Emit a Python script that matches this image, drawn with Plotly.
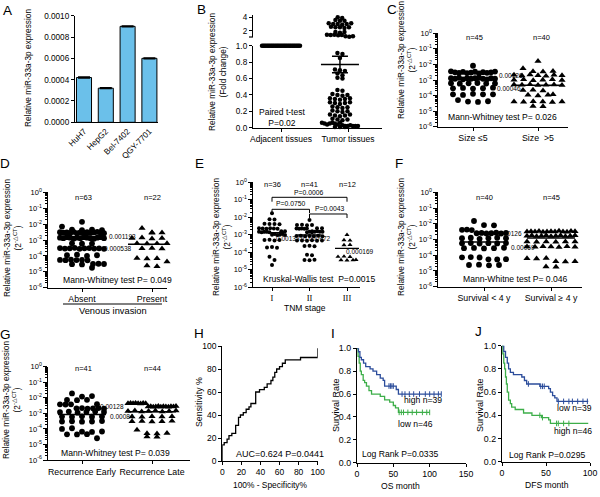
import numpy as np
import plotly.graph_objects as go

W, H = 600, 497
FONT = "Liberation Sans, Arial, Helvetica, sans-serif"
SERIF = "Liberation Serif, Times New Roman, serif"
BLUE = "#2B4C9B"
GREEN = "#3DAE49"

# ---------------- data ----------------
# A: cell lines
cell_lines = ["HuH7", "HepG2", "Bel-7402", "QGY-7701"]
cell_expr = [0.00042, 0.00032, 0.00090, 0.00060]
cell_err = [0.000004, 0.000003, 0.000004, 0.000003]

# B: paired tissues (fold change)
b_labels = ["Adjacent tissues", "Tumor tissues"]
adjacent_fc = [1.0, 1.0, 1.0, 1.0, 1.0, 1.0, 1.0, 1.0, 1.0, 1.0, 1.0, 1.0, 1.0, 1.0, 1.0,
               1.0, 1.0, 1.0, 1.0, 1.0, 1.0, 1.0, 1.0, 1.0, 1.0, 1.0, 1.0, 1.0, 1.0, 1.0]
tumor_fc = [4.0, 3.9, 3.6, 3.5, 3.5, 3.1, 3.0, 3.0, 2.9, 3.0, 3.1, 2.6, 2.5, 2.5, 2.4, 2.5,
            1.8, 1.7, 1.8, 1.4, 1.35, 1.4, 1.3, 1.35, 1.15, 1.1, 1.15,
            0.91, 0.90, 0.85, 0.71, 0.70, 0.69, 0.66, 0.64, 0.61, 0.60, 0.46, 0.45, 0.41, 0.40,
            0.39, 0.40, 0.36, 0.35, 0.34, 0.35, 0.36, 0.31, 0.30, 0.29, 0.30, 0.31, 0.26, 0.25,
            0.24, 0.25, 0.21, 0.20, 0.19, 0.20, 0.16, 0.15, 0.14, 0.15, 0.16, 0.11, 0.10, 0.09,
            0.10, 0.06, 0.05, 0.04, 0.05, 0.06, 0.05, 0.04, 0.06, 0.03, 0.02, 0.01, 0.02, 0.03,
            0.02, 0.01, 0.02, 0.01, 0.02]
tumor_mean = 0.77
tumor_sem = 0.10
b_test = "Paired t-test<br>P=0.02"

# C: tumour size
c_labels = ["Size \u22645", "Size \u00a0>5"]
c_le5 = [0.0082,
         0.0036, 0.0031, 0.0029, 0.0033, 0.0028, 0.0030, 0.0034, 0.0027, 0.0032, 0.0029, 0.0031, 0.0035,
         0.0013, 0.0012, 0.0014, 0.0011, 0.0013, 0.0012, 0.0013, 0.0014, 0.0012, 0.0011, 0.0013, 0.0012,
         0.00062, 0.00058, 0.00061, 0.00064, 0.00059, 0.00060,
         0.00029, 0.00031, 0.00028, 0.00030, 0.00032,
         0.00012, 0.00011, 0.00013, 0.00012, 0.00012,
         0.000051, 0.000041, 0.000039, 0.000043]
c_gt5 = [0.016, 0.0056,
         0.0036, 0.0034, 0.0037,
         0.0021, 0.0019, 0.0022, 0.0020, 0.0018, 0.0021, 0.0020,
         0.0010, 0.0011, 0.00095, 0.0010, 0.0011, 0.00098,
         0.00050, 0.00048, 0.00052, 0.00046, 0.00049, 0.00051, 0.00047,
         0.00022, 0.00023, 0.00021,
         0.00011, 0.00012, 0.00010, 0.00011,
         0.000041, 0.000039, 0.000042, 0.000040, 0.000038, 0.000041,
         0.000021, 0.000020]
c_medians = [0.00126, 0.00046]
c_n = ["n=45", "n=40"]
c_test = "Mann-Whitney test P= 0.026"

# D: venous invasion
d_labels = ["Absent", "Present"]
d_absent = [0.014, 0.0070,
            0.0045, 0.0042, 0.0044, 0.0041,
            0.0031, 0.0029, 0.0030, 0.0028, 0.0032, 0.0027, 0.0030, 0.0029, 0.0031, 0.0028, 0.0030, 0.0032, 0.0029, 0.0027,
            0.0014, 0.0013, 0.0015, 0.0014, 0.0012, 0.0014, 0.0013, 0.0015, 0.0014, 0.0013, 0.0012, 0.0014, 0.0015, 0.0013,
            0.00062, 0.00058, 0.00060,
            0.00031, 0.00029, 0.00030, 0.00032, 0.00028, 0.00030, 0.00031, 0.00029, 0.00030, 0.00028,
            0.00011, 0.00012, 0.00010, 0.00011,
            0.000056, 0.000054, 0.000058, 0.000055, 0.000057, 0.000053,
            0.000031, 0.000030, 0.000032, 0.000029, 0.000031,
            0.000018]
d_present = [0.0055,
             0.0030, 0.0028, 0.0029,
             0.0013, 0.0014, 0.0012, 0.0013, 0.0014,
             0.00062, 0.00058, 0.00060, 0.00061,
             0.00030, 0.00031, 0.00029,
             0.000072, 0.000068, 0.000070,
             0.000044,
             0.000024, 0.000022]
d_medians = [0.001193, 0.000538]
d_n = ["n=63", "n=22"]
d_test = "Mann-Whitney test P= 0.049"

# E: TNM stage
e_labels = ["I", "II", "III"]
e_stage1 = [0.017, 0.0078, 0.0075,
            0.0043, 0.0041, 0.0042, 0.0040,
            0.0024, 0.0023, 0.0022, 0.0024, 0.0023, 0.0022,
            0.0015, 0.0016, 0.0014, 0.0015, 0.0015, 0.0016, 0.0014,
            0.0010, 0.0011, 0.00098, 0.0010, 0.0011, 0.00097,
            0.00050, 0.00052, 0.00048, 0.00051,
            0.00019, 0.00020, 0.00018,
            0.000056, 0.000036, 0.000019]
e_stage2 = [0.0070,
            0.0036, 0.0037, 0.0035, 0.0036,
            0.0023, 0.0024, 0.0022, 0.0023, 0.0024, 0.0022, 0.0023,
            0.0015, 0.0016, 0.0014, 0.0015, 0.0016, 0.0014, 0.0015, 0.0015,
            0.00085, 0.00088, 0.00082, 0.00086, 0.00084, 0.00087, 0.00083,
            0.00047, 0.00048, 0.00046, 0.00049, 0.00045, 0.00047,
            0.00023, 0.00024, 0.00022,
            0.000072, 0.000068,
            0.000036, 0.000035, 0.000037]
e_stage3 = [0.0010, 0.00050, 0.00048, 0.00026, 0.00027,
            0.000056, 0.000058, 0.000055, 0.000036, 0.000035, 0.000037, 0.000036]
e_medians = [0.001337, 0.000972, 0.000169]
e_n = ["n=36", "n=41", "n=12"]
e_pairs = ["P=0.0006", "P=0.0750", "P=0.0043"]
e_test = "Kruskal-Wallis test  P=0.0015"

# F: survival
f_labels = ["Survival < 4 y", "Survival \u2265 4 y"]
f_lt4 = [0.015, 0.0083, 0.0080,
         0.0041, 0.0043, 0.0040,
         0.0025, 0.0026, 0.0024, 0.0025, 0.0027, 0.0024, 0.0026,
         0.0012, 0.0013, 0.0011, 0.0012, 0.0013, 0.0012,
         0.00057, 0.00060, 0.00055, 0.00058, 0.00056, 0.00059,
         0.00028, 0.00029, 0.00027, 0.00028, 0.00030,
         0.000074, 0.000076, 0.000072,
         0.000055, 0.000054, 0.000056,
         0.000024, 0.000025, 0.000023, 0.000024]
f_ge4 = [0.0032, 0.0033, 0.0031, 0.0034, 0.0030, 0.0032, 0.0033, 0.0031, 0.0035, 0.0032, 0.0030, 0.0034, 0.0033,
         0.0017, 0.0018, 0.0016, 0.0017, 0.0018, 0.0016, 0.0017, 0.0018, 0.0016, 0.0017, 0.0018,
         0.00072, 0.00070, 0.00074, 0.00071, 0.00073, 0.00072,
         0.00035, 0.00034, 0.00036, 0.00035, 0.00033, 0.00036, 0.00034,
         0.000063, 0.000061, 0.000065,
         0.000040, 0.000039, 0.000041,
         0.000019, 0.000018]
f_medians = [0.00069, 0.00126]
f_n = ["n=40", "n=45"]
f_test = "Mann-Whitne test P= 0.046"

# G: recurrence
g_labels = ["Recurrence Early", "Recurrence Late"]
g_early = [0.019, 0.012, 0.013,
           0.0072, 0.0070, 0.0074,
           0.0038, 0.0039, 0.0037, 0.0038,
           0.0021, 0.0022, 0.0020, 0.0021, 0.0022, 0.0020,
           0.0012, 0.0013, 0.0011, 0.0012, 0.0013, 0.0012,
           0.00062, 0.00060, 0.00064, 0.00061, 0.00063,
           0.00030, 0.00031, 0.00029, 0.00030, 0.00032,
           0.00010, 0.00011,
           0.000066, 0.000064, 0.000068,
           0.000045, 0.000044, 0.000046,
           0.000025]
g_late = [0.0044, 0.0045, 0.0043, 0.0046, 0.0044, 0.0042, 0.0045, 0.0043,
          0.0027, 0.0028, 0.0026, 0.0027, 0.0029, 0.0026, 0.0028, 0.0027, 0.0026, 0.0028, 0.0027, 0.0029,
          0.0014, 0.0015, 0.0013, 0.0014, 0.0015, 0.0013, 0.0014, 0.0015,
          0.00062, 0.00060, 0.00064, 0.00061, 0.00063,
          0.00030, 0.00031, 0.00029, 0.00030, 0.00032,
          0.000085,
          0.000052, 0.000050, 0.000054,
          0.000032, 0.000031]
g_medians = [0.00084, 0.00128]
g_n = ["n=41", "n=44"]
g_test = "Mann-Whitney test P= 0.039"

# H: ROC
roc_fpr = [0, 0, 2, 5, 7, 10, 14, 17, 19, 22, 25, 28, 30, 35, 39, 44, 47, 51, 53, 55, 57, 60, 63, 66, 82, 100]
roc_tpr = [0, 14, 16, 19, 22, 24, 31, 38, 40, 42, 45, 47, 50, 60, 62, 64, 67, 70, 73, 77, 80, 82, 85, 88, 90, 98]
roc_text = "AUC=0.624 P=0.0441"

# I: overall survival
os_high_t = [0, 2, 4, 6, 9, 12, 18, 22, 27, 32, 36, 38, 54, 57, 116]
os_high_s = [1.0, 0.97, 0.92, 0.90, 0.87, 0.84, 0.82, 0.80, 0.77, 0.74, 0.72, 0.67, 0.64, 0.60, 0.60]
os_high_cens = [44, 46, 48, 50, 62, 66, 72, 78, 86, 94, 100, 106, 112, 116]
os_low_t = [0, 1.5, 3, 4.5, 6, 8.5, 10.5, 13, 16.5, 20, 32, 38, 45, 50, 53, 57, 100]
os_low_s = [1.0, 0.93, 0.87, 0.80, 0.77, 0.72, 0.70, 0.67, 0.63, 0.60, 0.58, 0.55, 0.53, 0.50, 0.48, 0.44, 0.44]
os_low_cens = [58, 61, 64, 70, 76, 82, 90, 96, 100]
os_text = ["high n=39", "low n=46", "Log Rank P=0.0335"]

# J: disease-free survival
dfs_low_t = [0, 2, 4, 6, 7.5, 9.5, 13, 22.5, 25.5, 28, 43, 53, 55, 57.5, 60, 62.5, 98]
dfs_low_s = [1.0, 0.95, 0.90, 0.85, 0.80, 0.77, 0.75, 0.73, 0.70, 0.67, 0.65, 0.63, 0.60, 0.57, 0.55, 0.52, 0.52]
dfs_low_cens = [30, 44, 46, 48, 64, 70, 76, 80, 86, 92, 97]
dfs_high_t = [0, 1, 2, 3, 4, 5, 6, 7.5, 9.5, 11, 15, 24.5, 34, 45, 53, 55, 98]
dfs_high_s = [1.0, 0.93, 0.85, 0.80, 0.73, 0.67, 0.60, 0.53, 0.50, 0.47, 0.45, 0.42, 0.40, 0.38, 0.36, 0.33, 0.33]
dfs_high_cens = [43, 46, 62, 64, 70, 76]
dfs_text = ["low n=39", "high n=46", "Log Rank P=0.0295"]

log_ticks = [1e-6, 1e-5, 1e-4, 1e-3, 1e-2, 1e-1, 1]
log_ticktext = ["10<sup>-6</sup>", "10<sup>-5</sup>", "10<sup>-4</sup>", "10<sup>-3</sup>",
                "10<sup>-2</sup>", "10<sup>-1</sup>", "10<sup>0</sup>"]
YTITLE = "Relative miR-33a-3p expression"
DCT = "(2<sup>-\u25b3CT</sup>)"

# text sizes
S_LET = 13.5
S_YT = 8.3
S_TXT = 8.6
S_N = 7.5
S_MED = 6.5
S_CAT = 8.8
S_TICK = 8.2


# ---------------- helpers ----------------
def xdom(a, b):
    return [a / W, b / W]


def ydom(top, bottom):
    return [1 - bottom / H, 1 - top / H]


def cat_range(x0, x1, c0, step):
    return [(x0 - c0) / step, (x1 - c0) / step]


def tf(size=S_TICK, family=FONT):
    return dict(family=family, size=size, color="black")


def base_axis(**kw):
    d = dict(showline=True, linecolor="black", linewidth=1.3, ticks="outside", ticklen=3,
             tickwidth=1.2, tickcolor="black", showgrid=False, zeroline=False,
             tickfont=tf(), fixedrange=True, automargin=False)
    d.update(kw)
    return d


minor_log = [k * 10.0 ** e for e in range(-6, 0) for k in range(2, 10)]


def log_axis(top, bottom, anchor):
    return base_axis(type="log", domain=ydom(top, bottom), range=[-6, 0], anchor=anchor,
                     tickvals=log_ticks, ticktext=log_ticktext, ticklen=3.5,
                     tickfont=tf(7.5),
                     minor=dict(tickvals=minor_log, ticks="outside", ticklen=1.8,
                                tickwidth=0.8, tickcolor="black"))


def swarm(values, center, step_px, to_px, thr_px, sp_px, maxw_px):
    ypx = np.array([to_px(v) for v in values])
    order = np.argsort(ypx, kind="stable")
    groups, cur, start = [], [], None
    for i in order:
        if cur and ypx[i] - start > thr_px:
            groups.append(cur)
            cur = []
        if not cur:
            start = ypx[i]
        cur.append(i)
    if cur:
        groups.append(cur)
    xs = np.zeros(len(values))
    for g in groups:
        g = sorted(g)
        k = len(g)
        w = min(maxw_px, (k - 1) * sp_px)
        offs = np.linspace(-w / 2, w / 2, k) if k > 1 else [0.0]
        for j, i in enumerate(g):
            xs[i] = center + offs[j] / step_px
    return xs


def log_px(ppd):
    return lambda v: -np.log10(v) * ppd


def surv_at(times, surv, t):
    idx = 0
    for i, tt in enumerate(times):
        if tt <= t:
            idx = i
    return surv[idx]


fig = go.Figure()
L = {}
ann = []
shapes = []


def txt(x, y, s, size=S_TXT, xanchor="center", angle=0, family=FONT, color="black"):
    ann.append(dict(x=x / W, y=1 - y / H, xref="paper", yref="paper", text=s, showarrow=False,
                    xanchor=xanchor, yanchor="middle", textangle=angle,
                    font=dict(family=family, size=size, color=color)))


def dots(xs, ys, xa, ya, symbol, size):
    fig.add_trace(go.Scatter(x=xs, y=ys, mode="markers", xaxis=xa, yaxis=ya, cliponaxis=False,
                             marker=dict(symbol=symbol, size=size, color="black",
                                         line=dict(width=0)), hoverinfo="skip"))


def hline(c, hw, m, xa, ya, width=1.5, color="black"):
    fig.add_trace(go.Scatter(x=[c - hw, c + hw], y=[m, m], mode="lines", xaxis=xa, yaxis=ya,
                             cliponaxis=False, line=dict(color=color, width=width),
                             hoverinfo="skip"))


def paper_line(x0, y0, x1, y1, width=1.2):
    shapes.append(dict(type="line", xref="paper", yref="paper", x0=x0 / W, x1=x1 / W,
                       y0=1 - y0 / H, y1=1 - y1 / H, line=dict(color="black", width=width)))


# ---------------- A ----------------
A_STEP = 21.8
L["xaxis"] = base_axis(domain=xdom(75, 158), range=cat_range(75, 158, 84, A_STEP), anchor="y",
                       tickvals=[0, 1, 2, 3], ticktext=cell_lines, tickangle=-45, ticks="",
                       tickfont=tf(8.2))
L["yaxis"] = base_axis(domain=ydom(15.7, 122.3), range=[0, 0.001], anchor="x",
                       tickvals=[0, 0.0002, 0.0004, 0.0006, 0.0008, 0.001], tickformat=".4f")
fig.add_trace(go.Bar(x=[0, 1, 2, 3], y=cell_expr, width=0.69, xaxis="x", yaxis="y",
                     marker=dict(color="#6BC0EA", line=dict(color="black", width=1)),
                     error_y=dict(type="data", array=cell_err, color="black", thickness=1.5, width=6),
                     hoverinfo="skip"))
txt(7, 10, "A", size=S_LET)
txt(28, 68, YTITLE, size=S_YT, angle=-90)

# ---------------- B ----------------
B_STEP = 67
L["xaxis2"] = base_axis(domain=xdom(253, 382), range=cat_range(253, 382, 281, B_STEP), anchor="y2",
                        tickvals=[0, 1], ticktext=b_labels, tickangle=0, tickfont=tf(8.5))
L["yaxis2"] = base_axis(domain=ydom(45.7, 127.7), range=[0, 1.0], anchor="x2",
                        tickvals=[0, 0.2, 0.4, 0.6, 0.8, 1.0], tickformat=".1f")
L["yaxis11"] = base_axis(domain=ydom(15.3, 37.0), range=[1.05, 4.3], anchor="x2", tickvals=[2, 4])
adj_x = swarm(adjacent_fc, 0, B_STEP, lambda v: -v * 82, 4, 4, 38)
dots(adj_x, adjacent_fc, "x2", "y2", "circle", 4.5)
t_low = [v for v in tumor_fc if v <= 1.0]
t_up = [v for v in tumor_fc if v > 1.0]
TC = 0.88
dots(swarm(t_low, TC, B_STEP, lambda v: -v * 82, 3.5, 5, 36), t_low, "x2", "y2", "circle", 4.5)
dots(swarm(t_up, TC, B_STEP, lambda v: -v * 6.7, 2.5, 4.5, 26), t_up, "x2", "y11", "circle", 4.5)
hline(TC, 19 / B_STEP, tumor_mean, "x2", "y2", width=1.5)
fig.add_trace(go.Scatter(x=[TC], y=[tumor_mean], mode="markers", xaxis="x2", yaxis="y2",
                         marker=dict(size=1, color="black"), cliponaxis=False, hoverinfo="skip",
                         error_y=dict(type="data", array=[tumor_sem], color="black",
                                      thickness=1.5, width=8)))
txt(201, 9, "B", size=S_LET)
txt(217, 72, YTITLE + "<br>(Fold change)", size=S_YT, angle=-90)
txt(282, 117.5, b_test, size=8.5)
paper_line(249, 37.0, 253, 37.0)


# ---------------- dot-plot panels C, D, F, G ----------------
def dot_panel(n, xd, c0, step, ytop, ybot, g1, g2, med, labels, hw):
    xa, ya = f"x{n}", f"y{n}"
    L[f"xaxis{n}"] = base_axis(domain=xdom(*xd), range=cat_range(xd[0], xd[1], c0, step),
                               anchor=ya, tickvals=[0, 1], ticktext=labels, tickangle=0,
                               tickfont=tf(S_CAT))
    L[f"yaxis{n}"] = log_axis(ytop, ybot, xa)
    ppd = (ybot - ytop) / 6.0
    dots(swarm(g1, 0, step, log_px(ppd), 4.5, 10, 44), g1, xa, ya, "circle", 5.8)
    dots(swarm(g2, 1, step, log_px(ppd), 4.5, 10, 48), g2, xa, ya, "triangle-up", 6.3)
    hline(0, hw / step, med[0], xa, ya)
    hline(1, hw / step, med[1], xa, ya)


# C
dot_panel(3, (438, 568), 473, 65, 33.3, 126.7, c_le5, c_gt5, c_medians, c_labels, 23)
txt(392, 9, "C", size=S_LET)
txt(406, 60, YTITLE + "<br>" + DCT, size=S_YT, angle=-90)
txt(474, 37, c_n[0], size=S_N)
txt(541, 37, c_n[1], size=S_N)
txt(497, 75, str(c_medians[0]), size=S_MED, xanchor="left")
txt(523, 88, str(c_medians[1]), size=S_MED, xanchor="right")
txt(502, 117, c_test, size=S_TXT)

# D
dot_panel(4, (48, 167), 82, 70, 192.3, 287.7, d_absent, d_present, d_medians, d_labels, 24)
txt(5, 164, "D", size=S_LET)
txt(12, 238, YTITLE + "<br>" + DCT, size=S_YT, angle=-90)
txt(83, 197, d_n[0], size=S_N)
txt(152, 197, d_n[1], size=S_N)
txt(107, 236, str(d_medians[0]), size=S_MED, xanchor="left")
txt(133, 249, str(d_medians[1]), size=S_MED, xanchor="right")
txt(117, 280, d_test, size=S_TXT)
paper_line(63, 304, 162, 304, width=1)
txt(113, 311, "Venous invasion", size=9.3)

# F
dot_panel(6, (438, 582), 484, 67, 192.3, 286.7, f_lt4, f_ge4, f_medians, f_labels, 24)
txt(399, 164, "F", size=S_LET)
txt(406, 237, YTITLE + "<br>" + DCT, size=S_YT, angle=-90)
txt(484, 197, f_n[0], size=S_N)
txt(551, 197, f_n[1], size=S_N)
txt(524, 233, str(f_medians[1]), size=S_MED, xanchor="right")
txt(509, 248, str(f_medians[0]), size=S_MED, xanchor="left")
txt(515, 279, f_test, size=S_TXT)

# G
dot_panel(7, (48, 190), 82, 70, 366.7, 460, g_early, g_late, g_medians, g_labels, 24)
txt(5, 334, "G", size=S_LET)
txt(11, 400, YTITLE + "<br>" + DCT, size=S_YT, angle=-90)
txt(83, 368, g_n[0], size=S_N)
txt(152, 368, g_n[1], size=S_N)
txt(126, 406, str(g_medians[1]), size=S_MED, xanchor="right")
txt(108, 416, str(g_medians[0]), size=S_MED, xanchor="left")
txt(115, 453, g_test, size=S_TXT)

# ---------------- E ----------------
E_STEP = 37.5
L["xaxis5"] = base_axis(domain=xdom(253, 360), range=cat_range(253, 360, 272, E_STEP), anchor="y5",
                        tickvals=[0, 1, 2], ticktext=e_labels, tickangle=0, ticklen=2.5,
                        tickfont=tf(8.5, SERIF))
L["yaxis5"] = log_axis(182.3, 287.3, "x5")
eppd = (287.3 - 182.3) / 6.0
dots(swarm(e_stage1, 0, E_STEP, log_px(eppd), 3.5, 5, 26), e_stage1, "x5", "y5", "circle", 4)
dots(swarm(e_stage2, 1, E_STEP, log_px(eppd), 3.5, 5, 26), e_stage2, "x5", "y5", "circle", 4)
dots(swarm(e_stage3, 2, E_STEP, log_px(eppd), 3.5, 6, 22), e_stage3, "x5", "y5", "triangle-up", 4.5)
for i, m in enumerate(e_medians):
    hline(i, 12 / E_STEP, m, "x5", "y5", width=1.3)
brackets = [(0, 2, -0.857, -1.109), (0, 1, -1.543, -1.754), (1, 2, -1.811, -2.04)]
for (a, b, top, bot) in brackets:
    fig.add_trace(go.Scatter(x=[a, a, b, b], y=[10 ** bot, 10 ** top, 10 ** top, 10 ** bot],
                             mode="lines", xaxis="x5", yaxis="y5", cliponaxis=False,
                             line=dict(color="black", width=1), hoverinfo="skip"))
txt(199, 164, "E", size=S_LET)
txt(221, 237, YTITLE + "<br>" + DCT, size=S_YT, angle=-90)
for i, c in enumerate([272, 309.5, 347]):
    txt(c, 184, e_n[i], size=S_N)
txt(309, 192.5, e_pairs[0], size=6.8)
txt(291, 203, e_pairs[1], size=6.8)
txt(330, 208, e_pairs[2], size=6.8)
txt(274, 239, str(e_medians[0]), size=S_MED, xanchor="left")
txt(301, 239, str(e_medians[1]), size=S_MED, xanchor="left")
txt(344, 251, str(e_medians[2]), size=S_MED, xanchor="left")
txt(319, 279, e_test, size=S_TXT)
txt(305, 308, "TNM stage", size=8.5)

# ---------------- H ----------------
L["xaxis8"] = base_axis(domain=xdom(222.3, 317.7), range=[0, 100], anchor="y8",
                        tickvals=[0, 20, 40, 60, 80, 100], tickangle=0, tickfont=tf(8.5))
L["yaxis8"] = base_axis(domain=ydom(346, 461), range=[0, 100], anchor="x8",
                        tickvals=[0, 20, 40, 60, 80, 100], tickfont=tf(8.5))
fig.add_trace(go.Scatter(x=roc_fpr, y=roc_tpr, mode="lines", xaxis="x8", yaxis="y8",
                         cliponaxis=False, line=dict(color="black", width=1.3, shape="hv"),
                         hoverinfo="skip"))
txt(199, 333, "H", size=S_LET)
txt(199, 402, "Sensitivity %", size=8.8, angle=-90)
txt(280, 454, roc_text, size=9)
txt(270, 485, "100% - Specificity%", size=8.4)


# ---------------- I & J ----------------
def km(t, s, cens, color, xa, ya):
    fig.add_trace(go.Scatter(x=t, y=s, mode="lines", xaxis=xa, yaxis=ya, cliponaxis=False,
                             line=dict(color=color, width=1.3, shape="hv"), hoverinfo="skip"))
    cy = [surv_at(t, s, c) for c in cens]
    fig.add_trace(go.Scatter(x=cens, y=cy, mode="markers", xaxis=xa, yaxis=ya, cliponaxis=False,
                             marker=dict(symbol="line-ns", size=4, line=dict(color=color, width=1)),
                             hoverinfo="skip"))


L["xaxis9"] = base_axis(domain=xdom(357, 466), range=[0, 150], anchor="y9",
                        tickvals=[0, 50, 100, 150], tickangle=0, tickfont=tf(8.8))
L["yaxis9"] = base_axis(domain=ydom(348.3, 462.7), range=[0, 1], anchor="x9",
                        tickvals=[0, 0.2, 0.4, 0.6, 0.8, 1.0], tickformat=".1f", tickfont=tf(8.8))
km(os_low_t, os_low_s, os_low_cens, GREEN, "x9", "y9")
km(os_high_t, os_high_s, os_high_cens, BLUE, "x9", "y9")
txt(333, 333, "I", size=S_LET)
txt(336, 405, "Survival Rate", size=9, angle=-90)
txt(423, 400, os_text[0], size=S_TXT)
txt(415, 424, os_text[1], size=S_TXT)
txt(400, 454, os_text[2], size=S_TXT)
txt(400, 486, "OS month", size=S_TXT)

L["xaxis10"] = base_axis(domain=xdom(502, 590), range=[0, 100], anchor="y10",
                         tickvals=[0, 50, 100], tickangle=0, tickfont=tf(8.8))
L["yaxis10"] = base_axis(domain=ydom(345.7, 461.7), range=[0, 1], anchor="x10",
                         tickvals=[0, 0.2, 0.4, 0.6, 0.8, 1.0], tickformat=".1f", tickfont=tf(8.8))
km(dfs_high_t, dfs_high_s, dfs_high_cens, GREEN, "x10", "y10")
km(dfs_low_t, dfs_low_s, dfs_low_cens, BLUE, "x10", "y10")
txt(478, 331, "J", size=S_LET)
txt(480, 405, "Survival Rate", size=9, angle=-90)
txt(594, 408, dfs_text[0], size=S_TXT, xanchor="right")
txt(594, 431, dfs_text[1], size=S_TXT, xanchor="right")
txt(547, 455, dfs_text[2], size=S_TXT)
txt(547, 485, "DFS month", size=S_TXT)

fig.update_layout(
    template="none",
    width=W, height=H, autosize=False,
    margin=dict(l=0, r=0, t=0, b=0, pad=0, autoexpand=False),
    paper_bgcolor="white", plot_bgcolor="white",
    showlegend=False, annotations=ann, shapes=shapes,
    font=dict(family=FONT, color="black"),
    **L,
)
fig.write_html("out.html", config={"displayModeBar": False},
               post_script="document.body.style.margin='0px';"
                           "document.body.style.overflow='hidden';")
